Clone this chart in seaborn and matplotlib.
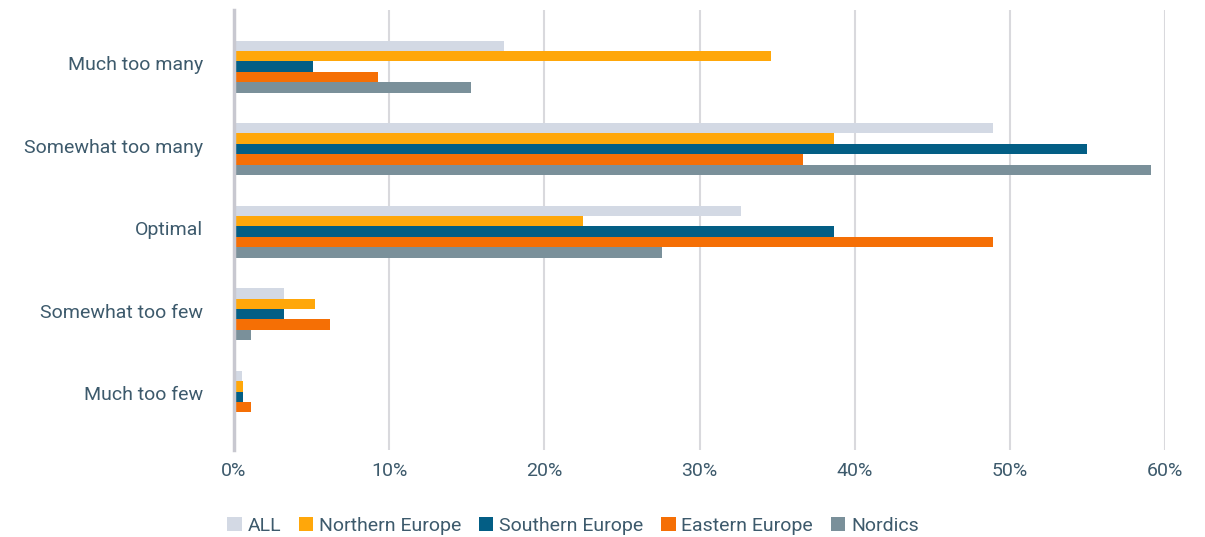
import matplotlib
matplotlib.use("Agg")
import matplotlib.pyplot as plt
import matplotlib.transforms as mtransforms
import seaborn as sns
import pandas as pd
from matplotlib.patches import Patch
from matplotlib.ticker import FuncFormatter

categories = ["Much too many", "Somewhat too many", "Optimal", "Somewhat too few", "Much too few"]
series = ["ALL", "Northern Europe", "Southern Europe", "Eastern Europe", "Nordics"]
all_vals = [17.4, 48.9, 32.7, 3.2, 0.5]
northern = [34.6, 38.7, 22.5, 5.2, 0.6]
southern = [5.1, 55.0, 38.7, 3.2, 0.6]
eastern = [9.3, 36.7, 48.9, 6.2, 1.1]
nordics = [15.3, 59.1, 27.6, 1.1, 0.0]
colors = ["#d3d9e4", "#ffa70a", "#035e85", "#f56f05", "#7a909a"]
text_color = "#3d5a6c"

rows = []
for s, vals in zip(series, [all_vals, northern, southern, eastern, nordics]):
    for c, v in zip(categories, vals):
        rows.append({"category": c, "series": s, "value": v})
df = pd.DataFrame(rows)

sns.set_style("white")
plt.rcParams["font.family"] = ["Roboto", "DejaVu Sans"]

fig = plt.figure(figsize=(12.05, 5.37), dpi=100)
ax = fig.add_axes([234 / 1205, 1 - 450 / 537, 931 / 1205, 440 / 537])

sns.barplot(data=df, y="category", x="value", hue="series", order=categories,
            hue_order=series, palette=colors, orient="h", width=0.63,
            saturation=1, ax=ax, legend=False, linewidth=0)

ax.set_xlim(0, 60)
ax.set_ylim(4.645, -0.685)
ax.set_xticks(range(0, 61, 10))
ax.xaxis.set_major_formatter(FuncFormatter(lambda v, p: f"{int(v)}%"))
ax.grid(axis="x", color="#d9d9dd", linewidth=1.5)
ax.set_axisbelow(True)
for sp in ["top", "right", "bottom"]:
    ax.spines[sp].set_visible(False)
ax.spines["left"].set_color("#c8c8d0")
ax.spines["left"].set_linewidth(2.5)
ax.spines["left"].set_zorder(5)
ax.set_xlabel("")
ax.set_ylabel("")
ax.tick_params(axis="both", length=0, labelsize=14, colors=text_color)
ax.tick_params(axis="x", pad=9)
ax.tick_params(axis="y", pad=22)

offset = mtransforms.ScaledTranslation(0, 0.035, fig.dpi_scale_trans)
for lbl in ax.get_yticklabels():
    lbl.set_transform(lbl.get_transform() + offset)

handles = [Patch(facecolor=c, edgecolor="none") for c in colors]
fig.legend(handles, series, loc="center", bbox_to_anchor=(573 / 1205, 1 - 526 / 537),
           ncol=5, frameon=False, fontsize=14, labelcolor=text_color,
           handlelength=0.75, handleheight=0.75, handletextpad=0.3, columnspacing=0.9)

fig.savefig("out.png", dpi=100)
